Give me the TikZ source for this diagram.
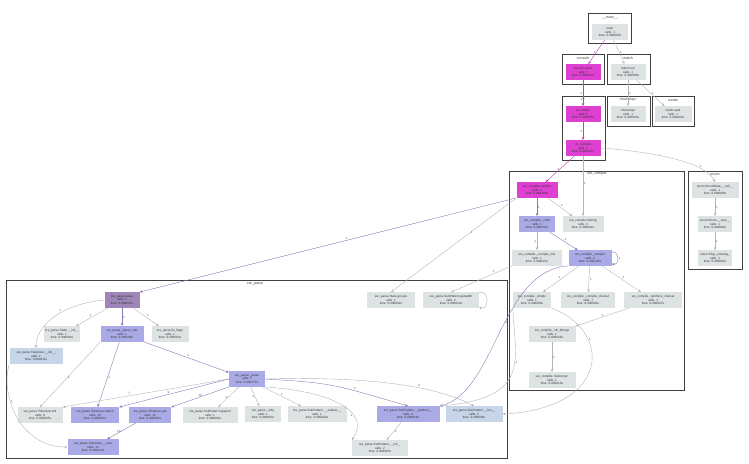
\documentclass[tikz,border=0pt]{standalone}
\usepackage{fontspec}
\setmainfont{Liberation Sans}
\usetikzlibrary{arrows.meta}
\definecolor{hot}{HTML}{E040D2}
\definecolor{warm}{HTML}{9E86B8}
\definecolor{mild}{HTML}{AAAAE6}
\definecolor{cool}{HTML}{C6D6E8}
\definecolor{cold}{HTML}{DDE3E3}
\definecolor{hotline}{HTML}{C040B8}
\definecolor{warmline}{HTML}{8C78B8}
\definecolor{coldline}{HTML}{B4B4B4}

\begin{document}
\begin{tikzpicture}[x=1pt,y=-1pt,
  fn/.style={rectangle,minimum height=15.5pt,inner sep=0.5pt,align=center,
    font=\fontsize{3.1}{3.7}\selectfont,text=black!80},
  hotfn/.style={fn,fill=hot},
  warmfn/.style={fn,fill=warm},
  mildfn/.style={fn,fill=mild},
  coolfn/.style={fn,fill=cool},
  coldfn/.style={fn,fill=cold},
  cluster/.style={draw=black!75,line width=1pt},
  clabel/.style={font=\fontsize{3.6}{4}\selectfont,text=black!75,inner sep=0pt},
  call/.style={draw=coldline,line width=0.4pt,-{Stealth[length=3pt,width=2.6pt]}},
  hotcall/.style={call,draw=hotline},
  warmcall/.style={call,draw=warmline},
  elabel/.style={font=\fontsize{3.1}{3.5}\selectfont,text=black!70,inner sep=0.8pt}]
\useasboundingbox (0,0) rectangle (749,463);

\draw[cluster] (588,13) rectangle (631,43);
\draw (610,18) node (lmain) [clabel] {\_\_main\_\_};
\draw[cluster] (562,54) rectangle (604,84);
\draw (583,58) node (lconsole) [clabel] {console};
\draw[cluster] (607,54) rectangle (650,84);
\draw (628,58) node (lmatch) [clabel] {match};
\draw[cluster] (562,96) rectangle (605,160);
\draw (583,100) node (lre) [clabel] {re};
\draw[cluster] (607,96) rectangle (650,126);
\draw (628,100) node (llistcomp) [clabel] {<listcomp>};
\draw[cluster] (652,96) rectangle (694,126);
\draw (673,100) node (lwords) [clabel] {words};
\draw[cluster] (509,171) rectangle (684,390);
\draw (597,174) node (lsrecompile) [clabel] {sre\_compile};
\draw[cluster] (688,171) rectangle (742,269);
\draw (715,175) node (lenum) [clabel] {enum};
\draw[cluster] (6,280) rectangle (507,458);
\draw (255,284) node (lsreparse) [clabel] {sre\_parse};

\draw (610,32) node (main) [coldfn,minimum width=36pt] {main\\calls: 1\\time: 0.000000s};
\draw (583,72) node (cparse) [hotfn,minimum width=35pt] {console.parse\\calls: 1\\time: 0.000412s};
\draw (628,72) node (mrun) [coldfn,minimum width=35pt] {match.run\\calls: 1\\time: 0.000008s};
\draw (583,114) node (recomp) [hotfn,minimum width=35pt] {re.compile\\calls: 1\\time: 0.000405s};
\draw (628,114) node (listc) [coldfn,minimum width=35pt] {<listcomp>\\calls: 1\\time: 0.000003s};
\draw (673,114) node (words) [coldfn,minimum width=37pt] {words.split\\calls: 1\\time: 0.000002s};
\draw (583,148) node (recomp2) [hotfn,minimum width=35pt] {re.\_compile\\calls: 1\\time: 0.000401s};

\draw (537,190) node (sccompile) [hotfn,minimum width=41pt] {sre\_compile.compile\\calls: 1\\time: 0.000389s};
\draw (537,224) node (sccode) [mildfn,minimum width=36pt] {sre\_compile.\_code\\calls: 1\\time: 0.000131s};
\draw (583,224) node (scisstr) [coldfn,minimum width=41pt] {sre\_compile.isstring\\calls: 2\\time: 0.000002s};
\draw (537,258) node (scinfo) [coldfn,minimum width=50pt] {sre\_compile.\_compile\_info\\calls: 1\\time: 0.000021s};
\draw (590,258) node (sccomp2) [mildfn,minimum width=43pt] {sre\_compile.\_compile\\calls: 2\\time: 0.000102s};
\draw (532,300) node (scsimple) [coldfn,minimum width=38pt] {sre\_compile.\_simple\\calls: 1\\time: 0.000006s};
\draw (588,300) node (sccharset) [coldfn,minimum width=54pt] {sre\_compile.\_compile\_charset\\calls: 1\\time: 0.000004s};
\draw (653,300) node (scopt) [coldfn,minimum width=58pt] {sre\_compile.\_optimize\_charset\\calls: 1\\time: 0.000047s};
\draw (552,334) node (scbitmap) [coldfn,minimum width=47pt] {sre\_compile.\_mk\_bitmap\\calls: 1\\time: 0.000029s};
\draw (552,380) node (sclistc) [coldfn,minimum width=47pt] {sre\_compile.<listcomp>\\calls: 1\\time: 0.000016s};

\draw (715,190) node (encall) [coldfn,minimum width=47pt] {enum.EnumMeta.\_\_call\_\_\\calls: 1\\time: 0.000009s};
\draw (715,224) node (ennew) [coldfn,minimum width=34pt] {enum.Enum.\_\_new\_\_\\calls: 1\\time: 0.000004s};
\draw (715,258) node (enmiss) [coldfn,minimum width=34pt] {enum.Flag.\_missing\_\\calls: 1\\time: 0.000002s};

\draw (122,300) node (spparse) [warmfn,minimum width=35pt] {sre\_parse.parse\\calls: 1\\time: 0.000231s};
\draw (36,356) node (sptinit) [coolfn,minimum width=53pt] {sre\_parse.Tokenizer.\_\_init\_\_\\calls: 1\\time: 0.000011s};
\draw (62,334) node (spsinit) [coldfn,minimum width=36pt] {sre\_parse.State.\_\_init\_\_\\calls: 1\\time: 0.000002s};
\draw (122,334) node (spsub) [mildfn,minimum width=43pt] {sre\_parse.\_parse\_sub\\calls: 1\\time: 0.000196s};
\draw (170,334) node (spflags) [coldfn,minimum width=37pt] {sre\_parse.fix\_flags\\calls: 1\\time: 0.000003s};
\draw (247,379) node (spparse2) [mildfn,minimum width=36pt] {sre\_parse.\_parse\\calls: 1\\time: 0.000172s};
\draw (40,415) node (sptell) [coldfn,minimum width=45pt] {sre\_parse.Tokenizer.tell\\calls: 8\\time: 0.000005s};
\draw (95,415) node (spmatch) [mildfn,minimum width=48pt] {sre\_parse.Tokenizer.match\\calls: 10\\time: 0.000012s};
\draw (150,415) node (spget) [mildfn,minimum width=42pt] {sre\_parse.Tokenizer.get\\calls: 12\\time: 0.000031s};
\draw (210,415) node (spappend) [coldfn,minimum width=55pt] {sre\_parse.SubPattern.append\\calls: 1\\time: 0.000002s};
\draw (263,414) node (spuniq) [coldfn,minimum width=36pt] {sre\_parse.\_uniq\\calls: 1\\time: 0.000003s};
\draw (317,414) node (spsetitem) [coldfn,minimum width=59pt] {sre\_parse.SubPattern.\_\_setitem\_\_\\calls: 1\\time: 0.000002s};
\draw (408,414) node (spgetitem) [mildfn,minimum width=63pt] {sre\_parse.SubPattern.\_\_getitem\_\_\\calls: 3\\time: 0.000014s};
\draw (474,414) node (splen) [coolfn,minimum width=57pt] {sre\_parse.SubPattern.\_\_len\_\_\\calls: 2\\time: 0.000006s};
\draw (93,447) node (spnext) [mildfn,minimum width=51pt] {sre\_parse.Tokenizer.\_\_next\\calls: 13\\time: 0.000019s};
\draw (380,448) node (spinit) [coldfn,minimum width=56pt] {sre\_parse.SubPattern.\_\_init\_\_\\calls: 2\\time: 0.000003s};
\draw (391,300) node (spgroups) [coldfn,minimum width=48pt] {sre\_parse.State.groups\\calls: 1\\time: 0.000002s};
\draw (451,300) node (spwidth) [coldfn,minimum width=56pt] {sre\_parse.SubPattern.getwidth\\calls: 2\\time: 0.000010s};

\draw[hotcall] (main) -- node[elabel,left] {1} (cparse);
\draw[call] (main) -- node[elabel,right] {1} (mrun);
\draw[hotcall] (cparse) -- node[elabel,left] {1} (recomp);
\draw[call] (mrun) -- node[elabel,right] {1} (listc);
\draw[call] (mrun) -- node[elabel,right] {1} (words);
\draw[hotcall] (recomp) -- node[elabel,left] {1} (recomp2);
\draw[hotcall] (recomp2) -- node[elabel,left] {1} (sccompile);
\draw[call] (recomp2) -- node[elabel,right,pos=.45] {1} (scisstr);
\draw[call] (recomp2.east) .. controls (655,152) and (705,162) .. node[elabel,above,pos=.75] {1} (encall.north);
\draw[call] (encall) -- node[elabel,right] {1} (ennew);
\draw[call] (ennew) -- node[elabel,right] {1} (enmiss);

\draw[warmcall] (sccompile) -- node[elabel,right] {1} (sccode);
\draw[call] (sccompile) -- node[elabel,above right] {1} (scisstr);
\draw[warmcall] (sccompile.south west) -- node[elabel,above,pos=.45] {1} (spparse.north east);
\draw[call] (sccompile.south west) -- node[elabel,right,pos=.37] {1} (spgroups.north);
\draw[call] (sccode) -- node[elabel,left] {1} (scinfo);
\draw[warmcall] (sccode) -- node[elabel,above right] {1} (sccomp2);
\draw[warmcall] (sccomp2) to[out=15,in=-15,looseness=1.8] node[elabel,right] {1} (sccomp2);
\draw[call] (scinfo.south west) -- node[elabel,above,pos=.3] {1} (spwidth.north);
\draw[call] (sccomp2) -- node[elabel,above left] {1} (scsimple);
\draw[call] (sccomp2) -- node[elabel,right] {1} (sccharset);
\draw[call] (sccomp2) -- node[elabel,above right] {1} (scopt);
\draw[call] (scopt) -- node[elabel,above] {1} (scbitmap);
\draw[call] (scbitmap) -- node[elabel,right] {1} (sclistc);
\draw[warmcall] (sccomp2.south west) .. controls (500,270) and (496,392) .. node[elabel,right,pos=.45] {4} (spgetitem.north east);
\draw[call] (scsimple.south west) .. controls (515,360) and (532,398) .. node[elabel,right,pos=.4] {1} (spgetitem.north east);
\draw[call] (scsimple.south east) .. controls (612,330) and (612,408) .. node[elabel,right,pos=.3] {1} (splen.east);
\draw[call] (spwidth) to[out=15,in=-15,looseness=1.8] (spwidth);

\draw[call] (spparse.west) .. controls (62,304) and (36,325) .. node[elabel,above left,pos=.4] {1} (sptinit.north);
\draw[call] (spparse) -- node[elabel,above left] {1} (spsinit);
\draw[warmcall] (spparse) -- node[elabel,right] {1} (spsub);
\draw[call] (spparse) -- node[elabel,above right] {1} (spflags);
\draw[call] (sptinit.south west) .. controls (0,395) and (20,447) .. node[elabel,right,pos=.35] {1} (spnext.west);
\draw[call] (spsub.south west) -- node[elabel,right,pos=.55] {1} (sptell.north);
\draw[warmcall] (spsub) -- node[elabel,right,pos=.55] {1} (spmatch);
\draw[warmcall] (spsub) -- node[elabel,above right] {1} (spparse2);
\draw[call] (spparse2.west) -- node[elabel,above,pos=.6] {7} (sptell.north east);
\draw[warmcall] (spparse2.west) -- node[elabel,above,pos=.55] {9} (spmatch.north east);
\draw[warmcall] (spparse2.south west) -- node[elabel,above,pos=.5] {12} (spget.north east);
\draw[call] (spparse2) -- node[elabel,left] {1} (spappend);
\draw[call] (spparse2) -- node[elabel,left] {1} (spuniq);
\draw[call] (spparse2) -- node[elabel,above] {1} (spsetitem);
\draw[warmcall] (spparse2.east) .. controls (330,383) .. node[elabel,above,pos=.7] {2} (spgetitem.north);
\draw[call] (spparse2.east) .. controls (380,376) and (440,388) .. node[elabel,above,pos=.6] {4} (splen.north);
\draw[call] (spparse2.south east) .. controls (340,392) and (370,415) .. node[elabel,left,pos=.65] {1} (spinit.north west);
\draw[warmcall] (spget) -- node[elabel,left] {12} (spnext);
\draw[call] (spgetitem) -- node[elabel,right] {1} (spinit);
\end{tikzpicture}
\end{document}
